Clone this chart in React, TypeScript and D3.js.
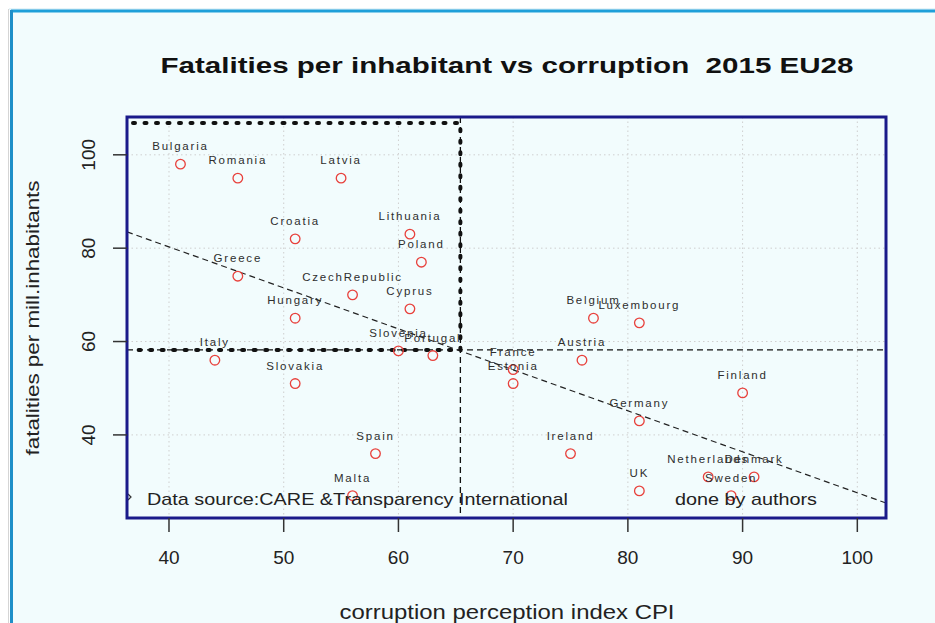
import React from "react";
import * as d3 from "d3";

const countries = ["Bulgaria","Romania","Latvia","Croatia","Lithuania","Poland","Greece","CzechRepublic","Cyprus","Hungary","Slovenia","Portugal","Italy","Slovakia","Spain","Malta","France","Estonia","Belgium","Luxembourg","Austria","Finland","Germany","Ireland","UK","Netherlands","Denmark","Sweden"];
const cpi = [41,46,55,51,61,62,46,56,61,51,60,63,44,51,58,56,70,70,77,81,76,90,81,75,81,87,91,89];
const fatalities = [98,95,95,82,83,77,74,70,67,65,58,57,56,51,36,27,54,51,65,64,56,49,43,36,28,31,31,27];

const xTicks = [40,50,60,70,80,90,100];
const yTicks = [40,60,80,100];
const meanCpi = 65.4;
const meanFat = 58.2;
const quadrantTop = 106.8;
const trendIntercept = 115.4;
const trendSlope = -0.878;

const W = 935, H = 623;
const L = 127, R = 886, T = 117, B = 518;

export default function App() {
  const x = d3.scaleLinear().domain([36.34, 102.5]).range([L, R]);
  const y = d3.scaleLinear().domain([22.2, 108.1]).range([B, T]);
  const font = "'Liberation Sans', Arial, sans-serif";
  const trend = d3.line<number>().x(d => x(d)).y(d => y(trendIntercept + trendSlope * d));
  const xd = x.domain();
  return (
    <svg width={W} height={H} style={{ position: "fixed", left: 0, top: 0 }} fontFamily={font}>
      <defs>
        <clipPath id="plotclip"><rect x={L} y={T} width={R - L} height={B - T} /></clipPath>
      </defs>
      <rect x={0} y={0} width={W} height={H} fill="#ffffff" />
      <rect x={11} y={10} width={W - 11} height={H - 10} fill="#f2fcfd" />
      <line x1={9} y1={9} x2={W} y2={9} stroke="#cde8f3" strokeWidth={1} />
      <line x1={8.5} y1={9} x2={8.5} y2={H} stroke="#d5d5d5" strokeWidth={1} />
      <line x1={11} y1={11} x2={W} y2={11} stroke="#1e9fd9" strokeWidth={3} />
      <line x1={11.5} y1={10} x2={11.5} y2={H} stroke="#1e8fc8" strokeWidth={3} />

      <text x={507} y={73} textAnchor="middle" fontSize={22} fontWeight="bold" fill="#111" textLength={693} lengthAdjust="spacingAndGlyphs" style={{ whiteSpace: "pre" }} xmlSpace="preserve">Fatalities per inhabitant vs corruption  2015 EU28</text>

      {/* grid */}
      <g stroke="#cfcfcf" strokeWidth={1} strokeDasharray="1.5 3">
        {xTicks.map(t => <line key={"gx" + t} x1={x(t)} x2={x(t)} y1={T} y2={B} />)}
        {yTicks.map(t => <line key={"gy" + t} x1={L} x2={R} y1={y(t)} y2={y(t)} />)}
      </g>

      <g clipPath="url(#plotclip)">
        {/* mean lines */}
        <line x1={L} x2={R} y1={y(meanFat)} y2={y(meanFat)} stroke="#111" strokeWidth={1.3} strokeDasharray="6 4" />
        <line x1={x(meanCpi)} x2={x(meanCpi)} y1={T} y2={B} stroke="#111" strokeWidth={1.3} strokeDasharray="6 4" />
        {/* trend */}
        <path d={trend([xd[0], xd[1]]) || ""} fill="none" stroke="#222" strokeWidth={1.2} strokeDasharray="6 4" />
        {/* quadrant rectangle */}
        <path d={`M${x(xd[0]) + 6},${y(quadrantTop)} H${x(meanCpi)} V${y(meanFat)} H${x(xd[0]) + 3}`} fill="none" stroke="#111" strokeWidth={4} strokeDasharray="2 9.5" strokeLinecap="round" />
        {/* points */}
        {countries.map((c, i) => (
          <circle key={c} cx={x(cpi[i])} cy={y(fatalities[i])} r={4.8} fill="none" stroke="#e8413c" strokeWidth={1.3} />
        ))}
        {countries.map((c, i) => (
          <text key={"t" + c} x={x(cpi[i])} y={y(fatalities[i]) - 14} textAnchor="middle" fontSize={11.5} letterSpacing={1.8} fill="#2e2e2e">{c}</text>
        ))}
        <path d={`M${L + 1},${494} L${L + 4},${497} L${L + 1},${500}`} fill="none" stroke="#333" strokeWidth={1.2} />
        <text x={147} y={505} fontSize={17} fill="#222" textLength={421} lengthAdjust="spacingAndGlyphs">Data source:CARE &amp;Transparency International</text>
        <text x={675} y={505} fontSize={17} fill="#222" textLength={142} lengthAdjust="spacingAndGlyphs">done by authors</text>
      </g>

      {/* box */}
      <rect x={L} y={T} width={R - L} height={B - T} fill="none" stroke="#1a1a8a" strokeWidth={3} />

      {/* axes ticks */}
      <g stroke="#333" strokeWidth={1.5}>
        {xTicks.map(t => <line key={"xt" + t} x1={x(t)} x2={x(t)} y1={B} y2={B + 14} />)}
        {yTicks.map(t => <line key={"yt" + t} x1={L - 14} x2={L} y1={y(t)} y2={y(t)} />)}
      </g>
      {xTicks.map(t => (
        <text key={"xl" + t} x={x(t)} y={564} textAnchor="middle" fontSize={19} fill="#222">{t}</text>
      ))}
      {yTicks.map(t => (
        <text key={"yl" + t} transform={`translate(95,${y(t)}) rotate(-90)`} textAnchor="middle" fontSize={19} fill="#222">{t}</text>
      ))}
      <text x={507} y={619} textAnchor="middle" fontSize={19.5} fill="#222" textLength={335} lengthAdjust="spacingAndGlyphs">corruption perception index CPI</text>
      <text transform={`translate(39,318) rotate(-90)`} textAnchor="middle" fontSize={18.5} fill="#222" textLength={275} lengthAdjust="spacingAndGlyphs">fatalities per mill.inhabitants</text>
    </svg>
  );
}
